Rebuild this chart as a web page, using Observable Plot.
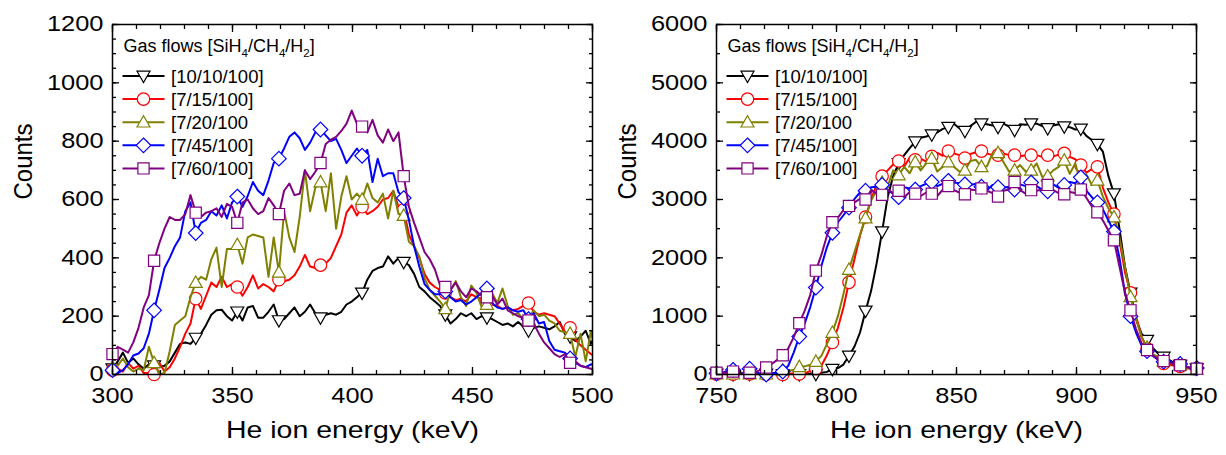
<!DOCTYPE html>
<html>
<head>
<meta charset="utf-8">
<script src="https://cdn.jsdelivr.net/npm/d3@7"></script>
<script src="https://cdn.jsdelivr.net/npm/@observablehq/plot@0.6"></script>
<style>
  body { margin: 0; background: #fff; }
  #figure { position: relative; width: 1226px; height: 455px; background: #fff; }
  #figure svg { position: absolute; top: 0; max-width: none; }
</style>
</head>
<body>
<div id="figure"></div>
<script>
// ---- Series (gas flow recipes) ----
const seriesNames = ["[10/10/100]", "[7/15/100]", "[7/20/100", "[7/45/100]", "[7/60/100]"];
const seriesColors = ["#000000", "#ff0000", "#808000", "#0000ff", "#800080"];

// ---- Low-energy window (300–500 keV): channel calibration ----
const lowStart = 300;
const lowChannelWidth = 2.1667;   // keV per channel
const lowMarkerEvery = 8;         // a symbol on every 8th channel

const low_10_10_100 = [20,45,75,40,55,35,20,35,30,25,
  30,45,75,105,110,105,125,140,170,205,
  220,222,200,185,215,185,230,235,195,195,
  215,240,185,190,210,230,200,215,240,210,
  195,205,210,205,215,240,250,265,280,325,
  355,365,370,405,380,400,385,375,345,300,
  285,265,250,235,205,175,190,210,200,210,
  190,200,195,190,180,170,175,165,180,165,
  150,160,165,160,155,165,180,140,130,115,
  130,150,105,140];
const low_7_15_100 = [15,20,10,40,20,30,5,5,0,40,
  10,25,55,95,140,175,260,225,270,315,
  300,335,300,310,300,270,300,340,295,310,
  300,285,325,320,325,340,370,410,370,365,
  375,380,400,440,480,555,580,545,575,550,
  560,575,600,605,630,575,565,480,440,400,
  345,315,300,290,280,265,255,260,250,275,
  265,260,250,240,235,225,230,220,225,235,
  245,215,205,210,205,200,175,145,160,120,
  100,85,70,60];
const low_7_20_100 = [25,30,55,25,10,20,15,95,40,0,
  5,80,170,185,200,265,315,335,325,395,
  435,300,430,430,445,380,470,480,475,470,
  335,470,350,560,470,420,540,700,560,640,
  660,560,690,500,610,680,600,620,600,655,
  605,590,620,535,630,550,545,455,440,405,
  330,290,270,250,225,290,320,265,235,305,
  280,230,240,280,245,295,235,205,210,190,
  190,220,200,205,185,175,150,145,140,60,
  140,45,150,60];
const low_7_45_100 = [15,5,15,35,65,72,90,140,220,290,
  365,400,440,470,560,590,485,520,530,560,
  545,580,535,590,610,575,612,660,630,615,
  665,725,740,775,815,830,810,770,795,830,
  840,820,800,808,770,725,750,775,750,770,
  660,740,680,690,690,625,605,530,440,370,
  310,290,275,275,285,265,250,255,240,250,
  265,280,295,245,230,225,230,220,215,220,
  190,210,175,180,115,85,80,75,55,40,
  30,25,35,30];
const low_7_60_100 = [70,95,85,75,110,160,230,272,390,450,
  500,540,530,530,550,615,555,540,555,560,
  570,540,585,575,520,590,600,570,550,560,
  605,580,550,630,655,615,620,700,670,695,
  725,790,805,815,835,860,905,860,850,830,
  873,820,795,840,800,830,680,575,520,470,
  420,395,360,305,300,290,315,285,265,295,
  285,270,265,270,240,260,220,210,200,195,
  185,175,140,110,90,70,60,70,40,45,
  30,25,20,15];

// ---- High-energy window (750–950 keV): channel calibration ----
const highStart = 750;
const highChannelWidth = 2.3;     // keV per channel
const highMarkerEvery = 3;

const high_10_10_100 = [10,0,5,0,10,0,5,0,0,10,
  5,0,0,5,10,0,5,10,5,30,
  45,90,110,170,320,480,720,1090,1430,1900,
  2450,3040,3400,3620,3760,3880,3990,4060,4080,4110,
  4150,4210,4240,4300,4220,4170,4260,4330,4300,4290,
  4270,4240,4300,4250,4190,4290,4280,4300,4300,4260,
  4220,4270,4290,4250,4240,4200,4210,4090,4020,3950,
  3820,3400,3100,2500,1850,1400,950,700,590,460,
  360,300,250,190,160,130,110,100];
const high_7_15_100 = [5,0,10,5,0,5,10,0,5,0,
  10,5,0,10,20,10,20,60,100,150,
  330,550,800,1150,1580,1980,2380,2700,3000,3250,
  3400,3500,3600,3660,3560,3720,3680,3700,3650,3740,
  3800,3750,3830,3790,3760,3710,3780,3810,3830,3790,
  3760,3760,3790,3760,3760,3740,3760,3760,3760,3730,
  3760,3740,3770,3790,3730,3690,3590,3460,3520,3560,
  3200,2950,2750,2300,1750,1400,1000,650,440,330,
  250,190,170,150,140,110,100,100];
const high_7_20_100 = [5,10,0,5,0,10,5,0,10,5,
  20,30,70,60,80,130,140,170,220,320,
  520,720,1000,1380,1800,2100,2400,2680,2980,3160,
  3290,3220,3500,3420,3560,3450,3640,3500,3620,3700,
  3480,3560,3640,3560,3480,3500,3660,3680,3560,3570,
  3790,3800,3640,3480,3500,3590,3480,3500,3620,3390,
  3400,3500,3560,3670,3440,3620,3250,3430,3250,3330,
  3050,2850,2700,2350,1850,1330,950,650,460,350,
  300,230,200,190,160,120,100,90];
const high_7_45_100 = [20,30,60,80,40,20,100,50,10,0,
  20,30,50,150,380,650,880,1160,1490,1860,
  2180,2430,2610,2730,2860,3010,3120,3150,3210,3220,
  3250,3160,3100,3040,3210,3190,3170,3230,3270,3300,
  3230,3270,3320,3290,3280,3260,3250,3270,3220,3160,
  3250,3210,3200,3220,3170,3260,3230,3290,3230,3170,
  3140,3260,3200,3250,3300,3280,3380,3150,3040,2950,
  2830,2640,2450,2000,1400,1000,720,500,400,320,
  260,220,200,200,180,140,110,110];
const high_7_60_100 = [30,20,40,50,30,20,30,40,80,120,
  180,250,330,450,640,880,1100,1370,1780,2050,
  2380,2610,2690,2820,2890,2950,3010,3000,3160,3100,
  3080,3170,3110,3150,3040,3130,3100,3060,3120,3100,
  3060,3170,3230,3160,3120,3090,3170,3160,3190,3150,
  3110,3050,3150,3170,3300,3160,3100,3160,3150,3170,
  3250,3160,3110,3090,3130,3110,3170,3030,2880,2780,
  2640,2470,2300,1850,1400,1100,780,540,420,330,
  270,230,200,180,160,130,110,100];

// ---- Axis ticks ----
const lowXTicks = [300, 350, 400, 450, 500];
const lowXMinor = d3.range(300, 501, 10);
const lowYTicks = [0, 200, 400, 600, 800, 1000, 1200];
const lowYMinor = d3.range(0, 1201, 50);
const highXTicks = [750, 800, 850, 900, 950];
const highXMinor = d3.range(750, 951, 10);
const highYTicks = [0, 1000, 2000, 3000, 4000, 5000, 6000];
const highYMinor = d3.range(0, 6001, 500);

const xTitle = "He ion energy (keV)";
const yTitle = "Counts";
const fontFamily = "'Liberation Sans', Arial, Helvetica, sans-serif";

// ---- Open marker shapes ----
const shapes = [
  (c, k) => { c.moveTo(-6.5 * k, -4.8 * k); c.lineTo(6.5 * k, -4.8 * k); c.lineTo(0, 6.6 * k); c.closePath(); },
  (c, k) => { c.moveTo(6.2 * k, 0); c.arc(0, 0, 6.2 * k, 0, 2 * Math.PI); c.closePath(); },
  (c, k) => { c.moveTo(-6.5 * k, 4.8 * k); c.lineTo(6.5 * k, 4.8 * k); c.lineTo(0, -6.6 * k); c.closePath(); },
  (c, k) => { c.moveTo(0, -7.3 * k); c.lineTo(7.3 * k, 0); c.lineTo(0, 7.3 * k); c.lineTo(-7.3 * k, 0); c.closePath(); },
  (c, k) => { c.rect(-5.6 * k, -5.6 * k, 11.2 * k, 11.2 * k); }
];
const seriesSymbols = shapes.map(fn => ({ draw(context, size) { fn(context, Math.sqrt(size / Math.PI)); } }));

function drawPanel(cfg) {
  const marks = [];
  cfg.counts.forEach((values, s) => {
    const rows = values.map((c, i) => ({ energy: cfg.start + i * cfg.channelWidth, counts: c, i }));
    marks.push(Plot.line(rows, { x: "energy", y: "counts", stroke: seriesColors[s], strokeWidth: 2, clip: true }));
    marks.push(Plot.dot(rows.filter(d => d.i % cfg.markerEvery === 0), {
      x: "energy", y: "counts", r: 1, symbol: seriesSymbols[s],
      stroke: seriesColors[s], fill: "white", strokeWidth: 1.2
    }));
  });

  const fmt = d3.format("d");
  marks.push(
    // tick labels
    Plot.axisX(cfg.xTicks, { anchor: "bottom", tickSize: 0, tickPadding: 13, tickFormat: fmt, label: null, fontSize: 21.5 }),
    Plot.axisY(cfg.yTicks, { anchor: "left", tickSize: 0, tickPadding: 9, tickFormat: fmt, label: null, fontSize: 21.5 }),
    // inward major and minor ticks on all four sides
    Plot.axisX(cfg.xTicks, { anchor: "bottom", tickSize: -7, fill: "none", label: null, strokeWidth: 1.3 }),
    Plot.axisX(cfg.xMinor, { anchor: "bottom", tickSize: -4, fill: "none", label: null, strokeWidth: 1.3 }),
    Plot.axisX(cfg.xTicks, { anchor: "top", tickSize: -7, fill: "none", label: null, strokeWidth: 1.3 }),
    Plot.axisX(cfg.xMinor, { anchor: "top", tickSize: -4, fill: "none", label: null, strokeWidth: 1.3 }),
    Plot.axisY(cfg.yTicks, { anchor: "left", tickSize: -7, fill: "none", label: null, strokeWidth: 1.3 }),
    Plot.axisY(cfg.yMinor, { anchor: "left", tickSize: -4, fill: "none", label: null, strokeWidth: 1.3 }),
    Plot.axisY(cfg.yTicks, { anchor: "right", tickSize: -7, fill: "none", label: null, strokeWidth: 1.3 }),
    Plot.axisY(cfg.yMinor, { anchor: "right", tickSize: -4, fill: "none", label: null, strokeWidth: 1.3 }),
    // axis titles
    Plot.text([xTitle], { text: d => d, frameAnchor: "bottom", dy: 63, fontSize: 24.5, className: "axis-title-x" }),
    Plot.text([yTitle], { text: d => d, frameAnchor: "left", dx: -89, rotate: -90, fontSize: 26, className: "axis-title-y" }),
    Plot.frame({ stroke: "black", strokeWidth: 1.5 })
  );

  const svg = Plot.plot({
    width: cfg.width,
    height: 455,
    marginLeft: cfg.marginLeft,
    marginRight: cfg.marginRight,
    marginTop: 24,
    marginBottom: 81,
    x: { domain: cfg.xDomain },
    y: { domain: cfg.yDomain },
    style: { fontFamily, fontSize: "21.5px", color: "black", background: "transparent", overflow: "visible" },
    marks
  });
  svg.style.left = cfg.left + "px";
  addLegend(svg, cfg.marginLeft + 0.5);
  return svg;
}

// Legend block in the upper-left corner of a panel
function addLegend(svg, x0) {
  const g = d3.select(svg).append("g")
    .attr("font-family", fontFamily).attr("fill", "black").attr("text-anchor", "start");
  const title = g.append("text").attr("x", x0 + 11).attr("y", 52).attr("font-size", 18);
  const parts = [["Gas flows [SiH", 0], ["4", 1], ["/CH", 0], ["4", 1], ["/H", 0], ["2", 1], ["]", 0]];
  let shifted = false;
  for (const [t, sub] of parts) {
    const span = title.append("tspan").text(t);
    if (sub) { span.attr("font-size", 11.5).attr("dy", shifted ? 0 : 5); shifted = true; }
    else if (shifted) { span.attr("dy", -5); shifted = false; }
  }
  seriesNames.forEach((name, s) => {
    const y = 76 + s * 23.1;
    g.append("line").attr("x1", x0 + 10).attr("x2", x0 + 52).attr("y1", y).attr("y2", y)
      .attr("stroke", seriesColors[s]).attr("stroke-width", 2);
    const p = d3.path();
    shapes[s](p, 1);
    g.append("path").attr("d", p.toString()).attr("transform", `translate(${x0 + 31},${y})`)
      .attr("fill", "white").attr("stroke", seriesColors[s]).attr("stroke-width", 1.2);
    g.append("text").attr("x", x0 + 58.5).attr("y", y).attr("dy", "0.36em")
      .attr("font-size", 18.5).text(name);
  });
}

// The figure's lettering is set a little wide: stretch tick labels and titles horizontally
function widenText(svg) {
  d3.select(svg).selectAll('g[aria-label="x-axis tick label"] text, g[aria-label="y-axis tick label"] text')
    .each(function () {
      const len = this.getComputedTextLength();
      this.setAttribute("textLength", (len * 1.18).toFixed(1));
      this.setAttribute("lengthAdjust", "spacingAndGlyphs");
    });
  d3.select(svg).selectAll(".axis-title-x text").each(function () {
    this.setAttribute("textLength", "253");
    this.setAttribute("lengthAdjust", "spacingAndGlyphs");
  });
  d3.select(svg).selectAll(".axis-title-y text").each(function () {
    this.setAttribute("textLength", "76");
    this.setAttribute("lengthAdjust", "spacingAndGlyphs");
  });
}

const figure = document.getElementById("figure");
const panels = [
  drawPanel({
    left: 0, width: 600, marginLeft: 112, marginRight: 8,
    start: lowStart, channelWidth: lowChannelWidth, markerEvery: lowMarkerEvery,
    counts: [low_10_10_100, low_7_15_100, low_7_20_100, low_7_45_100, low_7_60_100],
    xDomain: [300, 500], yDomain: [0, 1200],
    xTicks: lowXTicks, xMinor: lowXMinor, yTicks: lowYTicks, yMinor: lowYMinor
  }),
  drawPanel({
    left: 600, width: 626, marginLeft: 116, marginRight: 30,
    start: highStart, channelWidth: highChannelWidth, markerEvery: highMarkerEvery,
    counts: [high_10_10_100, high_7_15_100, high_7_20_100, high_7_45_100, high_7_60_100],
    xDomain: [750, 950], yDomain: [0, 6000],
    xTicks: highXTicks, xMinor: highXMinor, yTicks: highYTicks, yMinor: highYMinor
  })
];
for (const svg of panels) { figure.append(svg); widenText(svg); }
</script>
</body>
</html>
